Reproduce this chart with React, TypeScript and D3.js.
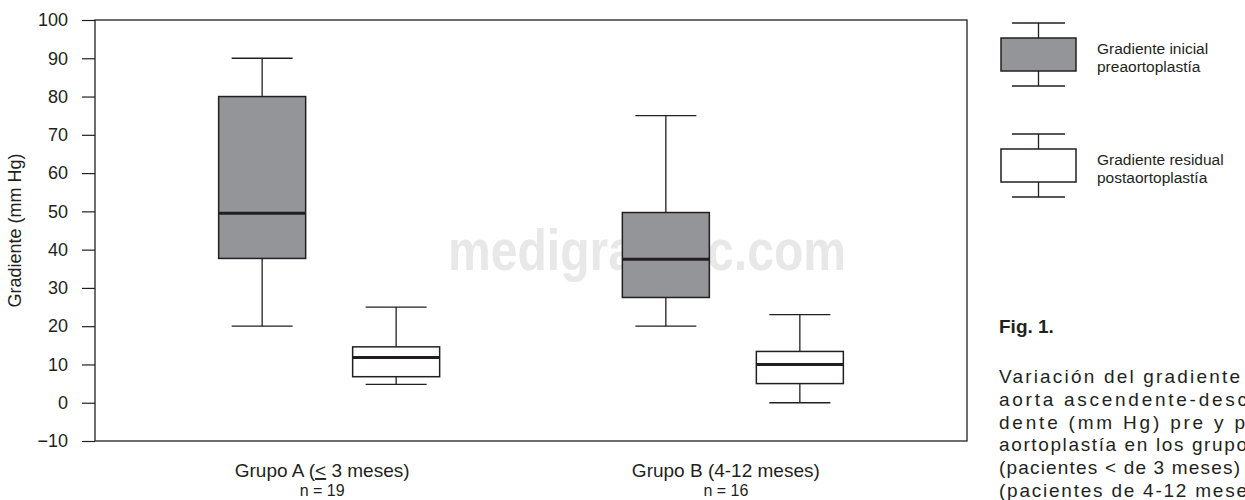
import * as d3 from "d3";
import { useEffect, useRef } from "react";

// values (mm Hg)
const groups = ["Grupo A", "Grupo B"];
const groupNames = ["Grupo A (", "Grupo B (4-12 meses)"];
const groupSizes = ["n = 19", "n = 16"];
const series = ["inicial", "residual"];
const seriesLabels = [
  ["Gradiente inicial", "preaortoplastía"],
  ["Gradiente residual", "postaortoplastía"],
];

const inicialMin = [20, 20];
const inicialQ1 = [37.7, 27.5];
const inicialMedian = [49.5, 37.5];
const inicialQ3 = [80, 49.7];
const inicialMax = [90, 75];

const residualMin = [4.8, 0];
const residualQ1 = [6.8, 5];
const residualMedian = [11.8, 10];
const residualQ3 = [14.6, 13.4];
const residualMax = [25, 23];

const yTicks = [-10, 0, 10, 20, 30, 40, 50, 60, 70, 80, 90, 100];

// caption runs off the right edge of the page, as in the source
const captionTitle = "Fig. 1.";
const captionVisible = [
  "Variación del gradiente",
  "aorta ascendente-desc",
  "dente (mm Hg) pre y p",
  "aortoplastía en los grupo",
  "(pacientes < de 3 meses)",
  "(pacientes de 4-12 mese",
];
const captionRest = [" de la", "endente", "ost-", "s A", " y B", "s)."];

const W = 1245;
const H = 500;
const left = 95;
const right = 967;
const top = 20;
const bottom = 441;
const ink = "#231f20";
const grayFill = "#939598";
const font = "'Liberation Sans', Arial, sans-serif";

function App() {
  const axisRef = useRef(null);

  const y = d3.scaleLinear().domain([-10, 100]).range([bottom, top]);
  const x0 = d3.scalePoint().domain(groups).range([left, right]).padding(0.58);
  const x1 = d3.scalePoint().domain(series).range([-67, 67]);
  const boxW = 87;
  const capW = 61;

  const stats = {
    inicial: { min: inicialMin, q1: inicialQ1, med: inicialMedian, q3: inicialQ3, max: inicialMax, fill: grayFill },
    residual: { min: residualMin, q1: residualQ1, med: residualMedian, q3: residualQ3, max: residualMax, fill: "#ffffff" },
  };

  const captionWidths = [241, 248, 246, 248, 241, 248];

  useEffect(() => {
    const g = d3.select(axisRef.current);
    g.selectAll("*").remove();
    g.call(d3.axisLeft(y).tickValues(yTicks).tickSizeInner(13).tickSizeOuter(0).tickPadding(14));
    g.select(".domain").remove();
    g.selectAll(".tick line").attr("stroke", ink).attr("stroke-width", 1.2);
    g.selectAll(".tick text")
      .attr("fill", ink)
      .attr("font-size", 18)
      .attr("font-family", font);
  }, []);

  return (
    <svg
      width={W}
      height={H}
      style={{ position: "absolute", left: 0, top: 0, background: "#fff" }}
      fontFamily={font}
    >
      {/* watermark */}
      <text
        x={448}
        y={270}
        fontSize={58}
        fontWeight="bold"
        fill="#e8e8e8"
        textLength={398}
        lengthAdjust="spacingAndGlyphs"
      >
        medigraphic.com
      </text>

      {/* frame */}
      <rect x={left} y={top} width={right - left} height={bottom - top} fill="none" stroke={ink} strokeWidth={1.3} />
      <g ref={axisRef} transform={`translate(${left},0)`} />

      <text
        transform={`translate(21,${(top + bottom) / 2}) rotate(-90)`}
        textAnchor="middle"
        fontSize={18}
        fill={ink}
      >
        Gradiente (mm Hg)
      </text>

      {/* boxes */}
      {groups.map((grp, gi) =>
        series.map((s) => {
          const st = stats[s];
          const cx = x0(grp) + x1(s);
          return (
            <g key={grp + s}>
              <line x1={cx} x2={cx} y1={y(st.max[gi])} y2={y(st.q3[gi])} stroke={ink} strokeWidth={1.3} />
              <line x1={cx} x2={cx} y1={y(st.q1[gi])} y2={y(st.min[gi])} stroke={ink} strokeWidth={1.3} />
              <line x1={cx - capW / 2} x2={cx + capW / 2} y1={y(st.max[gi])} y2={y(st.max[gi])} stroke={ink} strokeWidth={1.3} />
              <line x1={cx - capW / 2} x2={cx + capW / 2} y1={y(st.min[gi])} y2={y(st.min[gi])} stroke={ink} strokeWidth={1.3} />
              <rect
                x={cx - boxW / 2}
                y={y(st.q3[gi])}
                width={boxW}
                height={y(st.q1[gi]) - y(st.q3[gi])}
                fill={st.fill}
                stroke={ink}
                strokeWidth={1.5}
              />
              <line x1={cx - boxW / 2} x2={cx + boxW / 2} y1={y(st.med[gi])} y2={y(st.med[gi])} stroke={ink} strokeWidth={3} />
            </g>
          );
        })
      )}

      {/* x labels */}
      {groups.map((grp, gi) => (
        <g key={grp}>
          <text x={x0(grp) - 7} y={477} textAnchor="middle" fontSize={19} fill={ink}>
            {gi === 0 ? (
              <>
                {groupNames[0]}
                <tspan textDecoration="underline">{"<"}</tspan>
                {" 3 meses)"}
              </>
            ) : (
              groupNames[gi]
            )}
          </text>
          <text x={x0(grp) - 7} y={496} textAnchor="middle" fontSize={16} fill={ink}>
            {groupSizes[gi]}
          </text>
        </g>
      ))}

      {/* legend */}
      {series.map((s, si) => {
        const base = si === 0 ? 0 : 111;
        const cx = 1038.5;
        return (
          <g key={s}>
            <line x1={cx} x2={cx} y1={23 + base} y2={38 + base} stroke={ink} strokeWidth={1.3} />
            <line x1={cx} x2={cx} y1={71 + base} y2={86 + base} stroke={ink} strokeWidth={1.3} />
            <line x1={1012} x2={1065} y1={23 + base} y2={23 + base} stroke={ink} strokeWidth={1.3} />
            <line x1={1012} x2={1065} y1={86 + base} y2={86 + base} stroke={ink} strokeWidth={1.3} />
            <rect x={1001} y={38 + base} width={75} height={33} fill={stats[s].fill} stroke={ink} strokeWidth={1.5} />
            <text x={1097} y={54 + base} fontSize={15.5} fill={ink}>
              {seriesLabels[si][0]}
            </text>
            <text x={1097} y={72 + base} fontSize={15.5} fill={ink}>
              {seriesLabels[si][1]}
            </text>
          </g>
        );
      })}

      {/* caption */}
      <text x={999} y={333} fontSize={19} fontWeight="bold" fill={ink}>
        {captionTitle}
      </text>
      {captionVisible.map((line, i) => (
        <text key={i} x={999} y={383 + i * 22.8} fontSize={19} fill={ink}>
          <tspan textLength={captionWidths[i]} lengthAdjust="spacing">
            {line}
          </tspan>
          <tspan>{captionRest[i]}</tspan>
        </text>
      ))}
    </svg>
  );
}

export default App;
